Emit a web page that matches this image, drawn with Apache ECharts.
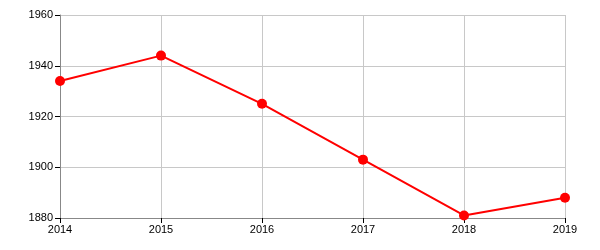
<!DOCTYPE html>
<html><head><meta charset="utf-8">
<script src="https://cdn.jsdelivr.net/npm/echarts@6/dist/echarts.min.js"></script>
<style>html,body{margin:0;padding:0;background:#fff}#c{width:600px;height:250px}</style>
</head><body><div id="c"></div>
<script>
var years = ['2014','2015','2016','2017','2018','2019'];
var values = [1934, 1944, 1925, 1903, 1881, 1888];
var yTicks = [1880, 1900, 1920, 1940, 1960];

var chart = echarts.init(document.getElementById('c'), null, {renderer:'canvas'});
chart.setOption({
  animation:false,
  grid:{left:60,right:35,top:15,bottom:32,containLabel:false},
  xAxis:{type:'category',data:years,boundaryGap:false,
    axisLine:{lineStyle:{color:'#888',width:1}},
    axisTick:{show:true,alignWithLabel:true,length:5,lineStyle:{color:'#000'}},
    axisLabel:{color:'#000',fontFamily:'Liberation Sans, Arial',fontSize:11,margin:6},
    splitLine:{show:true,lineStyle:{color:'#c8c8c8'}}},
  yAxis:{type:'value',min:yTicks[0],max:yTicks[yTicks.length-1],interval:20,
    axisLine:{show:true,lineStyle:{color:'#888'}},
    axisTick:{show:true,length:5,lineStyle:{color:'#000'}},
    axisLabel:{color:'#000',fontFamily:'Liberation Sans, Arial',fontSize:11,margin:7,
      formatter:function(v){return String(v);}},
    splitLine:{show:true,lineStyle:{color:'#c8c8c8'}}},
  series:[{type:'line',data:values,symbol:'circle',symbolSize:10,
    lineStyle:{color:'#ff0000',width:2},itemStyle:{color:'#ff0000'}}]
});
</script></body></html>
